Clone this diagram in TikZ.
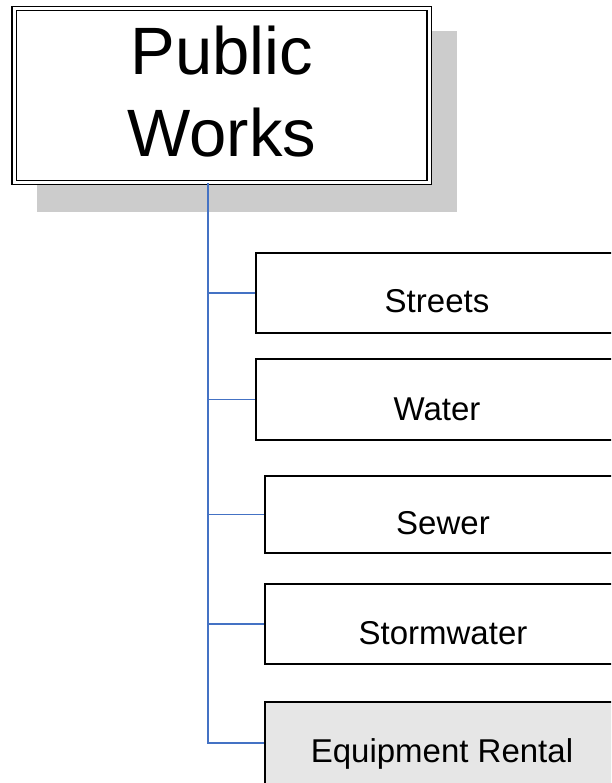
\documentclass[tikz,border=0pt]{standalone}
\usepackage{fontspec}
\setmainfont{Liberation Sans}
\definecolor{linkblue}{HTML}{4472C4}
\definecolor{shadowgray}{HTML}{CCCCCC}
\definecolor{rentalgray}{HTML}{E6E6E6}
\begin{document}
\begin{tikzpicture}[x=1pt,y=-1pt,
  box/.style={draw=black, line width=1.7pt, fill=white, minimum width=366pt, anchor=north west, inner sep=0pt},
  lbl/.style={anchor=base, font=\fontsize{33}{40}\selectfont, inner sep=0pt},
  link/.style={draw=linkblue, line width=1.6pt}]
\useasboundingbox (0,0) rectangle (611,783);
\clip (0,0) rectangle (611,783);
% shadow of the top box
\fill[shadowgray] (37,31) rectangle (457,212);
% top box
\node[draw=black, double, line width=1.4pt, double distance=3pt, fill=white,
      minimum width=415pt, minimum height=174pt, inner sep=0pt] (top) at (221.7,95.6) {};
\node[align=center, inner sep=0pt, font=\fontsize{67}{81.7}\selectfont] (topT) at (222,91.5) {Public\\Works};
% child boxes
\node[box, minimum height=80pt] (streets) at (255,252) {};
\node[box, minimum height=81pt] (water) at (255,358) {};
\node[box, minimum height=77pt] (sewer) at (264,475) {};
\node[box, minimum height=80pt] (storm) at (264,583) {};
\node[box, minimum height=82pt, fill=rentalgray] (rental) at (264,701) {};
% labels
\node[lbl] (streetsT) at (437,312) {Streets};
\node[lbl] (waterT) at (437,420) {Water};
\node[lbl] (sewerT) at (443,534) {Sewer};
\node[lbl] (stormT) at (443,644) {Stormwater};
\node[lbl] (rentalT) at (442,762) {Equipment Rental};
% connectors
\coordinate (trunk) at ([xshift=-13.7pt]top.south);
\draw[link] (trunk) |- (streets.west);
\draw[link] (trunk) |- (water.west);
\draw[link] (trunk) |- (sewer.west);
\draw[link] (trunk) |- (storm.west);
\draw[link] (trunk) |- (rental.west);
\end{tikzpicture}
\end{document}
